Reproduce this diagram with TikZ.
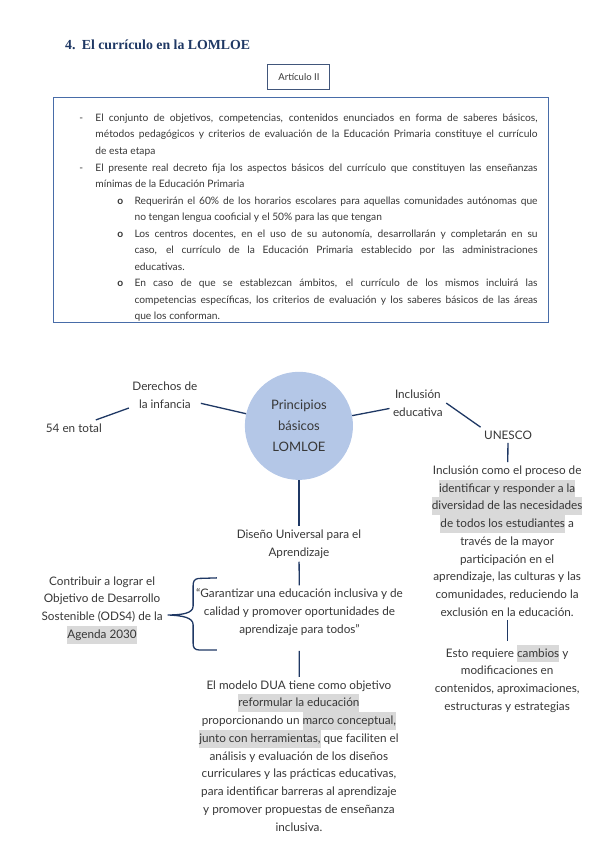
\documentclass[tikz,border=0pt]{standalone}
\usepackage{fontspec}
\setmainfont{Lato}
\newfontfamily\serifTitulo{Liberation Serif}
\usepackage{enumitem}
\usepackage{tikz}
\usetikzlibrary{positioning}
\definecolor{azulOscuro}{RGB}{31,56,100}
\definecolor{azulMarco}{RGB}{72,108,168}
\definecolor{azulCirculo}{RGB}{180,199,231}
\definecolor{grisTexto}{RGB}{55,55,55}
\definecolor{grisResalte}{RGB}{217,217,217}
\newcommand{\resalte}[1]{{\setlength{\fboxsep}{0pt}\colorbox{grisResalte}{\strut #1}}}

\begin{document}
\begin{tikzpicture}[
      titulo/.style   = {anchor=west, inner sep=0pt, text=azulOscuro,
          font=\serifTitulo\fontsize{13.8}{16}\selectfont\bfseries},
      articulo/.style = {rectangle, draw=azulOscuro!85, line width=1pt,
          minimum width=2.17cm, minimum height=0.91cm,
          font=\fontsize{9.5}{11}\selectfont, text=grisTexto},
      marco/.style    = {rectangle, draw=azulMarco, line width=1.1pt,
          minimum width=17.35cm, minimum height=7.89cm},
      lista/.style    = {anchor=north west, inner sep=0pt, text width=16.06cm,
          align=justify, text=grisTexto, font=\fontsize{10.2}{16.5}\selectfont},
      centro/.style   = {circle, fill=azulCirculo, minimum size=3.79cm,
          align=center, text=grisTexto, font=\fontsize{13}{21}\selectfont},
      texto/.style    = {align=center, text=grisTexto,
          font=\fontsize{11.7}{17.7}\selectfont},
      enlace/.style   = {draw=azulOscuro, line width=1.3pt},
    ]
    \useasboundingbox (0,0) rectangle (21,-29.73);

    % ── Encabezado ───────────────────────────────────────────────
    \node[titulo]   (tit) at (2.28,-1.58) {4.\hspace{0.45em}El currículo en la LOMLOE};
    \node[articulo] (art) at (10.48,-2.70) {Artículo II};

    % ── Recuadro del artículo ────────────────────────────────────
    \node[marco] (rec) at (10.54,-7.35) {};
    \node[lista] (txt) at (2.78,-3.67) {%
      \begin{itemize}[label=-, leftmargin=0.56cm, labelwidth=0.56cm,
                      labelsep=0pt, align=left, nosep]
        \item El conjunto de objetivos, competencias, contenidos enunciados en forma de saberes básicos,\linebreak
          métodos pedagógicos y criterios de evaluación de la Educación Primaria constituye el currículo\linebreak
          de esta etapa
        \item El presente real decreto fija los aspectos básicos del currículo que constituyen las enseñanzas\linebreak
          mínimas de la Educación Primaria
        \begin{itemize}[label=\textbf{o}, leftmargin=1.37cm, labelwidth=0.6cm,
                        labelsep=0pt, align=left, nosep]
          \item Requerirán el 60\% de los horarios escolares para aquellas comunidades autónomas que\linebreak
            no tengan lengua cooficial y el 50\% para las que tengan
          \item Los centros docentes, en el uso de su autonomía, desarrollarán y completarán en su\linebreak
            caso, el currículo de la Educación Primaria establecido por las administraciones\linebreak
            educativas.
          \item En caso de que se establezcan ámbitos, el currículo de los mismos incluirá las\linebreak
            competencias específicas, los criterios de evaluación y los saberes básicos de las áreas\linebreak
            que los conforman.
        \end{itemize}
      \end{itemize}};

    % ── Principios básicos ───────────────────────────────────────
    \node[centro] (princ)  at (10.48,-14.93) {Principios\\básicos\\LOMLOE};
    \node[texto]  (der)    at (5.78,-13.85)  {Derechos de\\la infancia};
    \node[texto]  (total)  at (2.59,-15.00)  {54 en total};
    \node[texto]  (incl)   at (14.65,-14.13) {Inclusión\\educativa};
    \node[texto]  (unesco) at (17.81,-15.25) {UNESCO};
    \node[texto]  (incpar) at (17.78,-18.97) {Inclusión como el proceso de\\
        \resalte{identificar y responder a la}\\
        \resalte{diversidad de las necesidades}\\
        \resalte{de todos los estudiantes} a\\
        través de la mayor\\participación en el\\
        aprendizaje, las culturas y las\\comunidades, reduciendo la\\
        exclusión en la educación.};
    \node[texto]  (esto)   at (17.78,-23.79) {Esto requiere \resalte{cambios} y\\
        modificaciones en\\contenidos, aproximaciones,\\estructuras y estrategias};

    % ── Diseño Universal para el Aprendizaje ─────────────────────
    \node[texto] (dis)   at (10.48,-19.07) {Diseño Universal para el\\Aprendizaje};
    \node[texto] (cita)  at (10.50,-21.46) {“Garantizar una educación inclusiva y de\\
        calidad y promover oportunidades de\\aprendizaje para todos”};
    \node[texto] (contr) at (3.58,-21.39)  {Contribuir a lograr el\\Objetivo de Desarrollo\\
        Sostenible (ODS4) de la\\\resalte{Agenda 2030}};
    \node[texto] (dua)   at (10.48,-26.50) {El modelo DUA tiene como objetivo\\
        \resalte{reformular la educación}\\
        proporcionando un \resalte{marco conceptual,}\\
        \resalte{junto con herramientas,} que faciliten el\\
        análisis y evaluación de los diseños\\
        curriculares y las prácticas educativas,\\
        para identificar barreras al aprendizaje\\
        y promover propuestas de enseñanza\\inclusiva.};

    % ── Enlaces ──────────────────────────────────────────────────
    \draw[enlace] (der)   -- (princ);
    \draw[enlace] (total) -- (der);
    \draw[enlace] (princ) -- (incl);
    \draw[enlace] (incl.east) -- (unesco.north west);
    \draw[enlace] (unesco) -- (incpar);
    \draw[enlace] (incpar) -- (esto);
    \draw[enlace] (princ) -- (dis);
    \draw[enlace] (dis)   -- (cita);
    \draw[enlace, shorten <=0.42cm] (cita) -- (dua);

    % llave hacia el objetivo ODS4
    \draw[enlace] (7.60,-20.26) -- (6.95,-20.28)
        .. controls (6.80,-20.30) and (6.77,-20.40) .. (6.77,-20.55) -- (6.77,-21.25)
        .. controls (6.77,-21.50) and (6.40,-21.56) .. (5.88,-21.56)
        .. controls (6.40,-21.58) and (6.77,-21.65) .. (6.77,-21.90) -- (6.77,-22.55)
        .. controls (6.77,-22.72) and (6.82,-22.78) .. (7.00,-22.79) -- (7.60,-22.79);

  \end{tikzpicture}
\end{document}
